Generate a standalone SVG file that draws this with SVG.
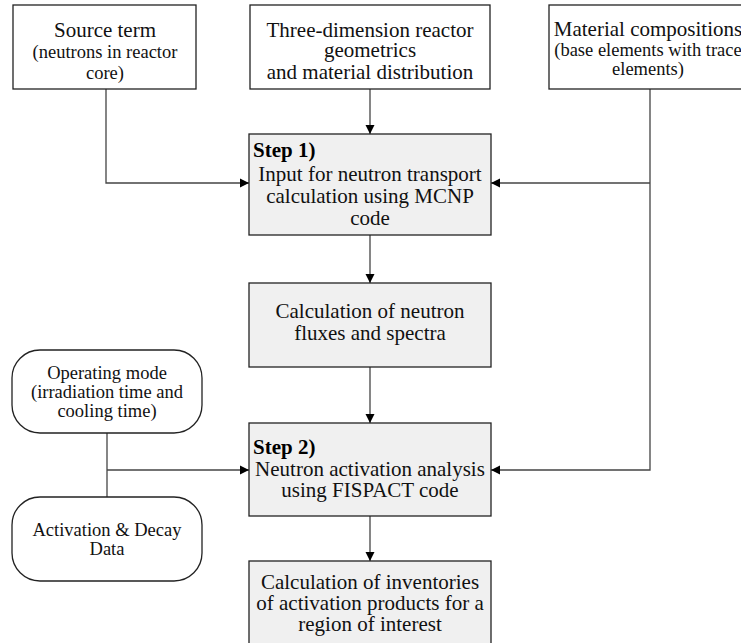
<svg xmlns="http://www.w3.org/2000/svg" width="741" height="643" viewBox="0 0 741 643">
<defs>
<marker id="ah" viewBox="0 0 10 10" refX="10" refY="5" markerWidth="9" markerHeight="11" markerUnits="userSpaceOnUse" orient="auto">
<path d="M0,0 L10,5 L0,10 Z" fill="#000"/>
</marker>
<style>
.box{fill:#fff;stroke:#222;stroke-width:1.3}
.step{fill:#f0f0f0;stroke:#222;stroke-width:1.3}
.rnd{fill:#fff;stroke:#222;stroke-width:1.3}
.t{font-family:"Liberation Serif","Times New Roman",serif;font-size:21px;fill:#111;text-anchor:middle}
.s{font-family:"Liberation Serif","Times New Roman",serif;font-size:18.5px;fill:#111;text-anchor:middle}
.b{font-family:"Liberation Serif","Times New Roman",serif;font-size:21px;font-weight:bold;fill:#000}
.c{fill:none;stroke:#444;stroke-width:1.3}
</style>
</defs>
<rect width="741" height="643" fill="#fff"/>
<g id="connectors">
<path class="c" d="M106,89 V183 H249" marker-end="url(#ah)"/>
<path class="c" d="M370,89 V134" marker-end="url(#ah)"/>
<path class="c" d="M650,89 V470 H491" marker-end="url(#ah)"/>
<path class="c" d="M650,183 H491" marker-end="url(#ah)"/>
<path class="c" d="M370,235 V283" marker-end="url(#ah)"/>
<path class="c" d="M370,367 V423" marker-end="url(#ah)"/>
<path class="c" d="M107,433 V497"/>
<path class="c" d="M107,470 H249" marker-end="url(#ah)"/>
<path class="c" d="M370,516 V561" marker-end="url(#ah)"/>
</g>
<g id="source">
<rect class="box" x="13" y="5" width="183" height="84"/>
<text class="t" x="105" y="37">Source term</text>
<text class="s" x="105" y="58">(neutrons in reactor</text>
<text class="s" x="105" y="79">core)</text>
</g>
<g id="geometry">
<rect class="box" x="250" y="5" width="240" height="84"/>
<text class="t" x="370" y="37">Three-dimension reactor</text>
<text class="t" x="370" y="57">geometrics</text>
<text class="t" x="370" y="79">and material distribution</text>
</g>
<g id="materials">
<rect class="box" x="549" y="5" width="198" height="84"/>
<text class="t" x="648" y="36">Material compositions</text>
<text class="s" x="648" y="56">(base elements with trace</text>
<text class="s" x="648" y="75">elements)</text>
</g>
<g id="step1">
<rect class="step" x="249" y="134" width="242" height="101"/>
<text class="b" x="253" y="157">Step 1)</text>
<text class="t" x="370" y="181">Input for neutron transport</text>
<text class="t" x="370" y="203">calculation using MCNP</text>
<text class="t" x="370" y="225">code</text>
</g>
<g id="flux">
<rect class="step" x="249" y="283" width="242" height="84"/>
<text class="t" x="370" y="318">Calculation of neutron</text>
<text class="t" x="370" y="340">fluxes and spectra</text>
</g>
<g id="operating">
<rect class="rnd" x="12" y="350" width="190" height="83" rx="28" ry="28"/>
<text class="s" x="107" y="379">Operating mode</text>
<text class="s" x="107" y="398">(irradiation time and</text>
<text class="s" x="107" y="417">cooling time)</text>
</g>
<g id="decay">
<rect class="rnd" x="12" y="497" width="190" height="84" rx="28" ry="28"/>
<text class="s" x="107" y="536">Activation &amp; Decay</text>
<text class="s" x="107" y="555">Data</text>
</g>
<g id="step2">
<rect class="step" x="249" y="423" width="242" height="93"/>
<text class="b" x="253" y="454">Step 2)</text>
<text class="t" x="370" y="476">Neutron activation analysis</text>
<text class="t" x="370" y="497">using FISPACT code</text>
</g>
<g id="inventory">
<rect class="step" x="249" y="561" width="242" height="90"/>
<text class="t" x="370" y="589">Calculation of inventories</text>
<text class="t" x="370" y="610">of activation products for a</text>
<text class="t" x="370" y="631">region of interest</text>
</g>
</svg>
